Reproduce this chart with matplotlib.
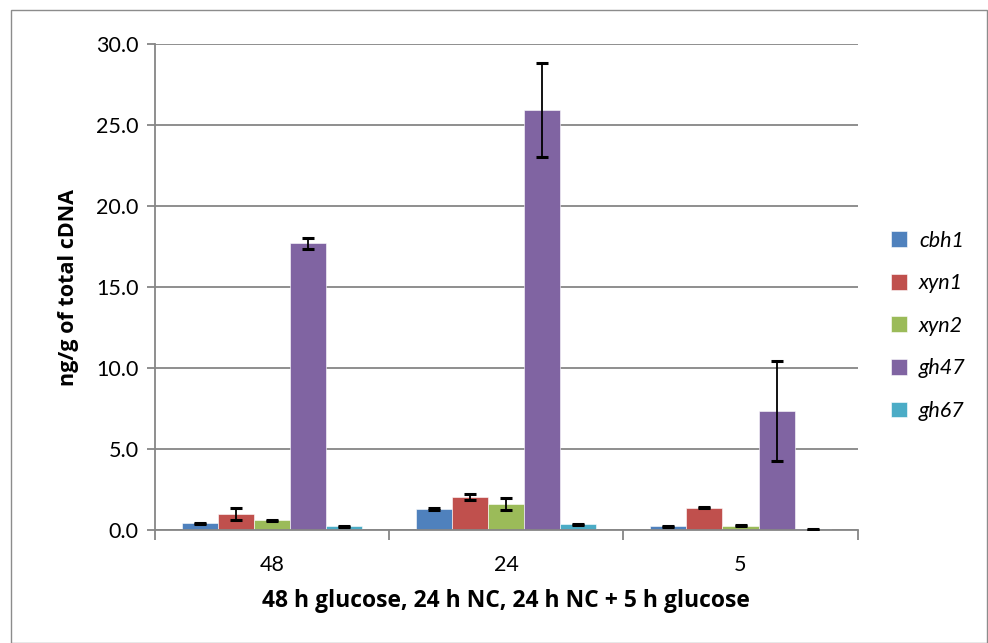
import numpy as np
import matplotlib.pyplot as plt
from matplotlib.patches import Rectangle

# Datos
groups = ["48", "24", "5"]
genes = ["cbh1", "xyn1", "xyn2", "gh47", "gh67"]
cbh1 = [0.43, 1.28, 0.23]
xyn1 = [0.99, 2.06, 1.38]
xyn2 = [0.60, 1.59, 0.25]
gh47 = [17.7, 25.9, 7.35]
gh67 = [0.23, 0.37, 0.05]
cbh1_err = [0.03, 0.05, 0.02]
xyn1_err = [0.38, 0.19, 0.03]
xyn2_err = [0.02, 0.38, 0.03]
gh47_err = [0.35, 2.9, 3.1]
gh67_err = [0.02, 0.03, 0.02]

values = [cbh1, xyn1, xyn2, gh47, gh67]
errors = [cbh1_err, xyn1_err, xyn2_err, gh47_err, gh67_err]
colors_ = ["#4F81BD", "#C0504D", "#9BBB59", "#8064A2", "#4BACC6"]

plt.rcParams['font.family'] = ['Lato', 'DejaVu Sans']
LABEL_FONT = ['Open Sans', 'DejaVu Sans']

fig = plt.figure(figsize=(9.88, 6.43), dpi=100)
fig.patches.append(Rectangle((0.011, 0.0), 0.988, 0.984, transform=fig.transFigure,
                             fill=False, edgecolor="#8c8c8c", linewidth=1.0))
ax = fig.add_axes([0.157, 0.1757, 0.711, 0.7559])

n = len(genes)
bar_w = 1.0 / (n + 1.5)
x = np.arange(len(groups))
for i, (vals, errs, col, name) in enumerate(zip(values, errors, colors_, genes)):
    pos = x + (i - (n - 1) / 2) * bar_w
    ax.bar(pos, vals, width=bar_w, color=col, edgecolor="white", linewidth=0.4,
           label=name, zorder=2)
    ax.errorbar(pos, vals, yerr=errs, fmt="none", ecolor="black", elinewidth=1.3,
                capsize=4.5, capthick=2.2, zorder=3)

ax.set_xlim(-0.5, 2.5)
ax.set_ylim(0, 30)
ax.set_yticks(np.arange(0, 30.1, 5))
ax.set_yticklabels([f"{v:.1f}" for v in np.arange(0, 30.1, 5)], fontsize=15.5)
ax.yaxis.grid(True, color="#868686", linewidth=1.3, zorder=0)
ax.set_axisbelow(True)

ax.set_xticks(x)
ax.set_xticklabels(groups, fontsize=15.5)
ax.tick_params(axis="x", length=0, pad=18)
ax.set_xticks([-0.5, 0.5, 1.5, 2.5], minor=True)
ax.tick_params(axis="x", which="minor", length=7, color="#868686", width=1.3)
ax.tick_params(axis="y", length=6, color="#868686", width=1.3, pad=6)

for s in ["top", "right"]:
    ax.spines[s].set_visible(False)
for s in ["left", "bottom"]:
    ax.spines[s].set_color("#868686")
    ax.spines[s].set_linewidth(1.3)

ax.set_ylabel("ng/g of total cDNA", fontsize=15.5, fontweight="bold",
              family=LABEL_FONT, labelpad=12)
ax.set_xlabel("48 h glucose, 24 h NC, 24 h NC + 5 h glucose", fontsize=16.5,
              fontweight="bold", family=LABEL_FONT, labelpad=10)

leg = ax.legend(loc="center left", bbox_to_anchor=(1.02, 0.42), frameon=False,
                handlelength=0.75, handleheight=0.75, handletextpad=0.55,
                labelspacing=1.05, prop={"size": 15.5, "style": "italic"})

fig.savefig("out.png", dpi=100)
